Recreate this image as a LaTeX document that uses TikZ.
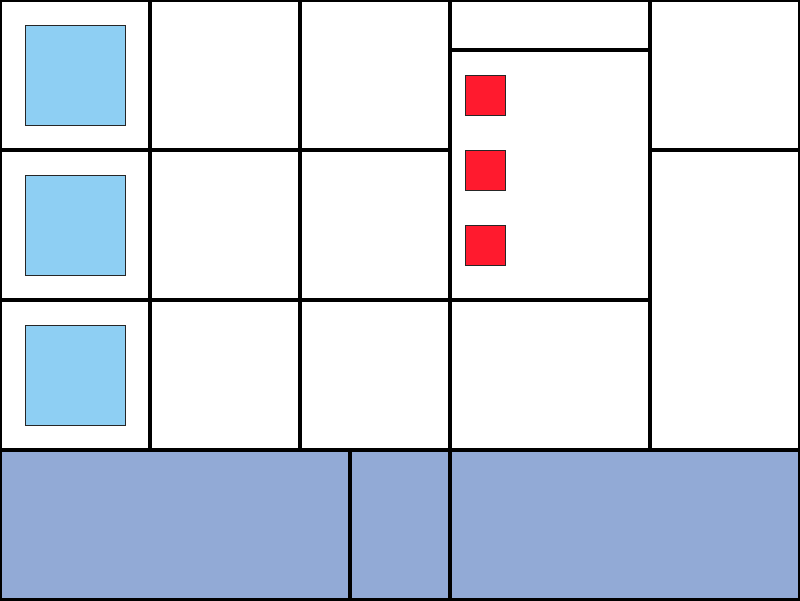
\documentclass[tikz,border=0pt]{standalone}
\definecolor{tankblue}{HTML}{8ECFF3}
\definecolor{lampred}{HTML}{FF1A2E}
\definecolor{floorblue}{HTML}{92AAD6}
\begin{document}
\begin{tikzpicture}[x=0.02cm,y=-0.02cm,
  wall/.style={draw=black,line width=0.075cm},
  tank/.style={draw=black!85,fill=tankblue,line width=0.018cm},
  lamp/.style={draw=black!85,fill=lampred,line width=0.018cm}]
\useasboundingbox (0,0) rectangle (800,600);
\clip (0,0) rectangle (800,600);
\fill[floorblue] (0,450) rectangle (800,600);
% walls
\draw[wall] (0,0) rectangle (800,600);
\draw[wall] (0,150) -- (450,150) (650,150) -- (800,150);
\draw[wall] (450,50) -- (650,50);
\draw[wall] (0,300) -- (650,300);
\draw[wall] (0,450) -- (800,450);
\draw[wall] (150,0) -- (150,450) (300,0) -- (300,450);
\draw[wall] (450,0) -- (450,600) (650,0) -- (650,450);
\draw[wall] (350,450) -- (350,600);
% tanks and lamps
\foreach \y in {25,175,325}
  \draw[tank] (25,\y) rectangle ++(100,100);
\foreach \y in {75,150,225}
  \draw[lamp] (465,\y) rectangle ++(40,40);
\end{tikzpicture}
\end{document}
